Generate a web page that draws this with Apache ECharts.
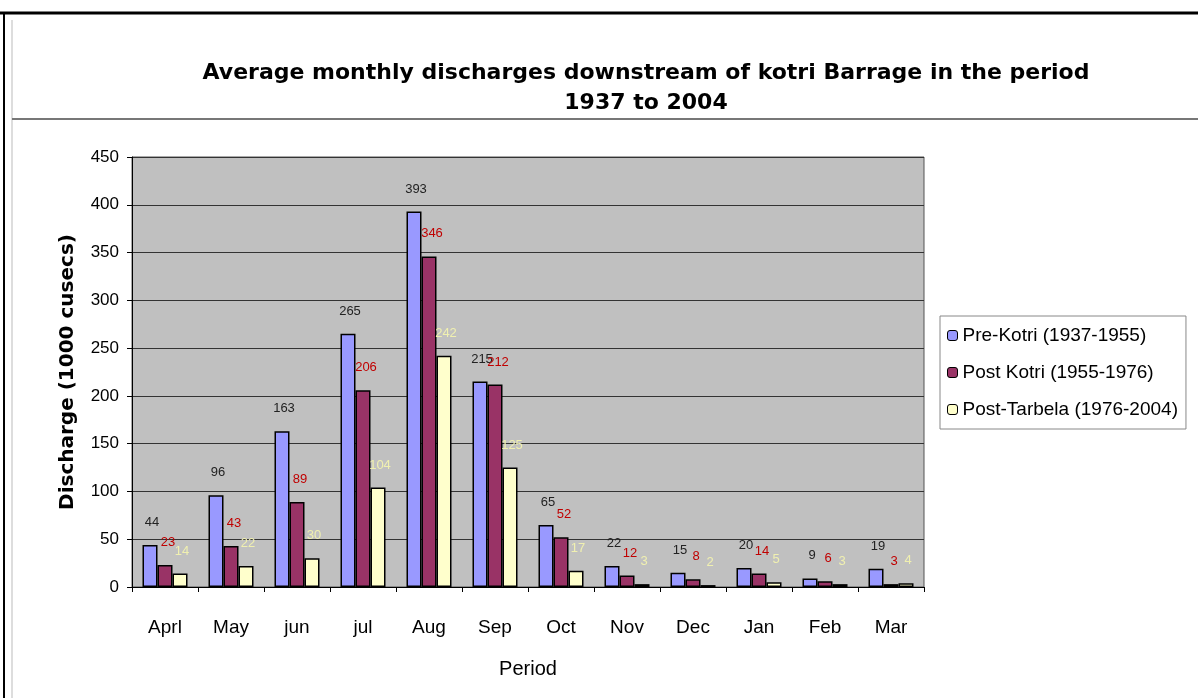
<!DOCTYPE html>
<html><head><meta charset="utf-8">
<script src="https://cdn.jsdelivr.net/npm/echarts@6/dist/echarts.min.js"></script>
<style>html,body{margin:0;padding:0;background:#fff}#c{width:1198px;height:698px}</style>
</head><body><div id="c"></div>
<script>
var months = ['Aprl','May','jun','jul','Aug','Sep','Oct','Nov','Dec','Jan','Feb','Mar'];
var seriesNames = ['Pre-Kotri (1937-1955)','Post Kotri (1955-1976)','Post-Tarbela (1976-2004)'];
var preKotri = [44,96,163,265,393,215,65,22,15,20,9,19];
var postKotri = [23,43,89,206,346,212,52,12,8,14,6,3];
var postTarbela = [14,22,30,104,242,125,17,3,2,5,3,4];
var yTicks = [0,50,100,150,200,250,300,350,400,450];

var chart = echarts.init(document.getElementById('c'));
var font = '"Liberation Sans", Arial, sans-serif';
var wide = '"DejaVu Sans", sans-serif';
function bar(name, data, color, labelColor, dx) {
  return {
    name: name, type: 'bar', data: data, barWidth: 15, barGap: '0%',
    itemStyle: {color: color, borderColor: '#000', borderWidth: 1.5},
    label: {show: true, position: 'top', distance: 16, offset: [dx, 0],
      color: labelColor, fontFamily: font, fontSize: 13},
    animation: false
  };
}
chart.setOption({
  animation: false,
  title: {
    text: 'Average monthly discharges downstream of kotri Barrage in the period\n1937 to 2004',
    left: 641, top: 53, textAlign: 'center',
    textStyle: {fontFamily: wide, fontSize: 22, fontWeight: 'bold', color: '#000', lineHeight: 30}
  },
  graphic: [
    {type: 'line', shape: {x1: 0, y1: 13, x2: 1198, y2: 13}, style: {stroke: '#000', lineWidth: 3}},
    {type: 'line', shape: {x1: 4, y1: 13, x2: 4, y2: 698}, style: {stroke: '#000', lineWidth: 2}},
    {type: 'line', shape: {x1: 12, y1: 20, x2: 12, y2: 698}, style: {stroke: '#bbb', lineWidth: 1}},
    {type: 'line', shape: {x1: 12, y1: 119, x2: 1198, y2: 119}, style: {stroke: '#777', lineWidth: 2}}
  ],
  legend: {
    orient: 'vertical', left: 940, top: 316, width: 248,
    itemWidth: 10, itemHeight: 10, itemGap: 18,
    borderColor: '#888', borderWidth: 1, padding: [10, 8, 10, 7],
    textStyle: {fontFamily: font, fontSize: 19, color: '#000'},
    itemStyle: {borderColor: '#000', borderWidth: 1},
    data: seriesNames
  },
  grid: {left: 132, right: 274, top: 157, bottom: 111, show: true, borderColor: '#555', borderWidth: 1, backgroundColor: '#C0C0C0'},
  xAxis: {
    type: 'category', data: months,
    name: 'Period', nameLocation: 'middle', nameGap: 72,
    nameTextStyle: {fontFamily: font, fontSize: 20, color: '#000'},
    axisLine: {lineStyle: {color: '#000', width: 1}},
    axisTick: {show: true, length: 5, lineStyle: {color: '#000'}},
    axisLabel: {fontFamily: font, fontSize: 19, color: '#000', margin: 31}
  },
  yAxis: {
    type: 'value', min: yTicks[0], max: yTicks[yTicks.length-1], interval: 50,
    name: 'Discharge (1000 cusecs)', nameLocation: 'middle', nameGap: 54,
    nameTextStyle: {fontFamily: wide, fontSize: 20, fontWeight: 'bold', color: '#000'},
    axisLine: {show: true, lineStyle: {color: '#000', width: 1}},
    axisTick: {show: true, length: 5, lineStyle: {color: '#000'}},
    axisLabel: {fontFamily: font, fontSize: 17, color: '#000', margin: 13},
    splitLine: {show: true, lineStyle: {color: '#333', width: 1.2}}
  },
  series: [
    bar(seriesNames[0], preKotri, '#9999FF', '#222', 2),
    bar(seriesNames[1], postKotri, '#993366', '#C00000', 3),
    bar(seriesNames[2], postTarbela, '#FFFFCC', '#F0F0B0', 2)
  ]
});
</script></body></html>
